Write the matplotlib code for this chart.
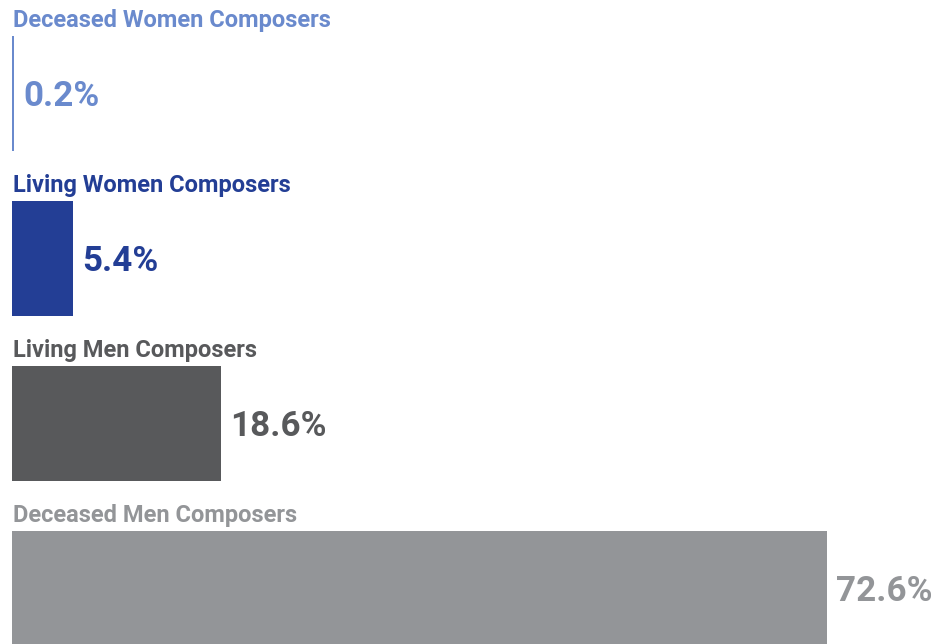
import matplotlib.pyplot as plt

plt.rcParams['font.family'] = ['Roboto', 'DejaVu Sans']

categories = ["Deceased Women Composers", "Living Women Composers",
              "Living Men Composers", "Deceased Men Composers"]
values = [0.2, 5.4, 18.6, 72.6]
colors = ["#6a8acd", "#233e95", "#58595b", "#939598"]

fig = plt.figure(figsize=(9.32, 6.44), dpi=100)
ax = fig.add_axes([0, 0, 1, 1])

pos = list(range(len(values)))
h = 0.697
ax.barh(pos, values, height=h, color=colors, align="center")

for i, (cat, v, c) in enumerate(zip(categories, values, colors)):
    ax.annotate(cat, xy=(0, i - h / 2), xytext=(0.5, 6.5), textcoords="offset points",
                ha="left", va="baseline", fontsize=17, fontweight="bold", color=c)
    ax.annotate(f"{v}%", xy=(v, i), xytext=(6.8, -8.8), textcoords="offset points",
                ha="left", va="baseline", fontsize=25.2, fontweight="bold", color=c)

ax.set_xlim(-12 / 11.226, 920 / 11.226)
ax.set_ylim(3.336, -0.5667)
ax.axis("off")

fig.savefig("out.png", dpi=100)
